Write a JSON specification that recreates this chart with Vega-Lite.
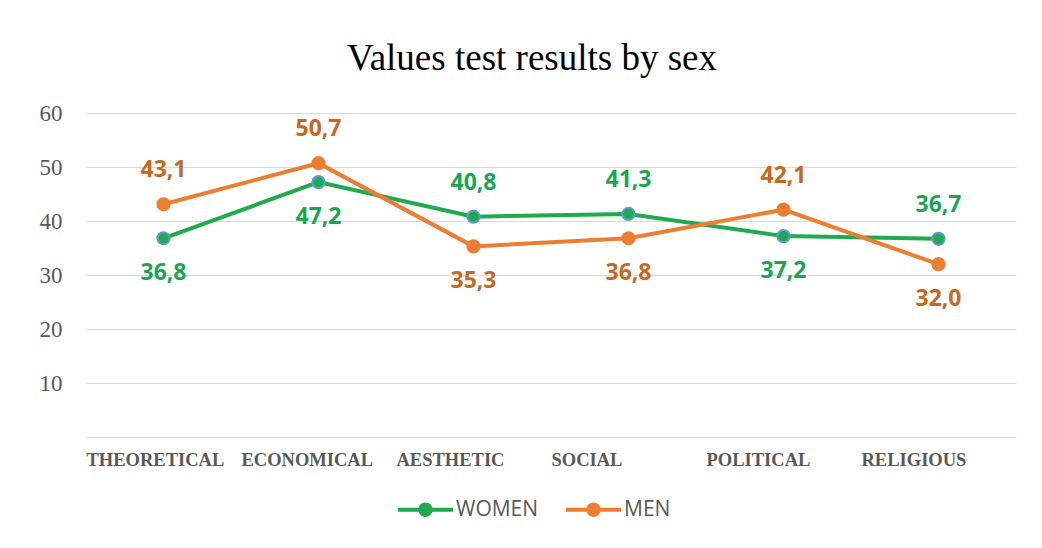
{
  "$schema": "https://vega.github.io/schema/vega-lite/v6.json",
  "width": 930,
  "height": 324,
  "autosize": "none",
  "padding": {"left": 86, "top": 113, "right": 26, "bottom": 111},
  "background": "white",
  "config": {
    "locale": {"number": {"decimal": ",", "thousands": ".", "grouping": [3], "currency": ["", ""]}},
    "view": {"stroke": null}
  },
  "title": {
    "text": "Values test results by sex",
    "font": "Liberation Serif",
    "fontSize": 37,
    "fontWeight": "normal",
    "color": "#000000",
    "offset": 24,
    "dx": -19
  },
  "data": {
    "values": [
      {"category": "THEORETICAL", "series": "WOMEN", "value": 36.8},
      {"category": "ECONOMICAL", "series": "WOMEN", "value": 47.2},
      {"category": "AESTHETIC", "series": "WOMEN", "value": 40.8},
      {"category": "SOCIAL", "series": "WOMEN", "value": 41.3},
      {"category": "POLITICAL", "series": "WOMEN", "value": 37.2},
      {"category": "RELIGIOUS", "series": "WOMEN", "value": 36.7},
      {"category": "THEORETICAL", "series": "MEN", "value": 43.1},
      {"category": "ECONOMICAL", "series": "MEN", "value": 50.7},
      {"category": "AESTHETIC", "series": "MEN", "value": 35.3},
      {"category": "SOCIAL", "series": "MEN", "value": 36.8},
      {"category": "POLITICAL", "series": "MEN", "value": 42.1},
      {"category": "RELIGIOUS", "series": "MEN", "value": 32.0}
    ]
  },
  "transform": [
    {"joinaggregate": [{"op": "max", "field": "value", "as": "maxv"}], "groupby": ["category"]},
    {"calculate": "datum.value == datum.maxv ? 'above' : 'below'", "as": "pos"}
  ],
  "encoding": {
    "x": {
      "field": "category",
      "type": "nominal",
      "sort": ["THEORETICAL", "ECONOMICAL", "AESTHETIC", "SOCIAL", "POLITICAL", "RELIGIOUS"],
      "axis": {
        "title": null,
        "labelAngle": 0,
        "labelAlign": "left",
        "labelOffset": -77.5,
        "labelFont": "Liberation Serif",
        "labelFontWeight": "bold",
        "labelFontSize": 18.5,
        "labelColor": "#595959",
        "labelPadding": 13,
        "ticks": false,
        "domain": false,
        "grid": false
      }
    },
    "y": {
      "field": "value",
      "type": "quantitative",
      "scale": {"domain": [0, 60], "nice": false},
      "axis": {
        "title": null,
        "values": [0, 10, 20, 30, 40, 50, 60],
        "labelExpr": "datum.value == 0 ? '' : datum.label",
        "labelFont": "Liberation Serif",
        "labelFontSize": 23,
        "labelColor": "#595959",
        "labelPadding": 24,
        "ticks": false,
        "domain": false,
        "grid": true,
        "gridColor": "#d9d9d9",
        "gridWidth": 1
      }
    }
  },
  "layer": [
    {
      "mark": {"type": "line", "strokeWidth": 4},
      "encoding": {
        "stroke": {
          "field": "series",
          "type": "nominal",
          "scale": {"domain": ["WOMEN", "MEN"], "range": ["#1DAB4E", "#ED7D31"]},
          "legend": {
            "title": null,
            "orient": "none",
            "legendX": 312,
            "legendY": 369,
            "direction": "horizontal",
            "symbolType": "M-1,-0.075H1V0.075H-1Z M0.26,0A0.26,0.26 0 1,1 -0.26,0A0.26,0.26 0 1,1 0.26,0Z",
            "symbolSize": 3025,
            "symbolStrokeWidth": 0,
            "labelFont": "Open Sans",
            "labelFontSize": 21,
            "labelColor": "#595959",
            "labelOffset": 3,
            "columnPadding": 27,
            "encode": {
              "symbols": {
                "update": {
                  "fill": {"scale": "stroke", "field": "value"},
                  "strokeWidth": {"value": 0}
                }
              }
            }
          }
        }
      }
    },
    {
      "mark": {"type": "point", "filled": true, "size": 150, "strokeWidth": 2, "opacity": 1},
      "encoding": {
        "fill": {
          "field": "series",
          "type": "nominal",
          "scale": {"domain": ["WOMEN", "MEN"], "range": ["#1DAB4E", "#ED7D31"]},
          "legend": null
        },
        "stroke": {
          "condition": {"test": "datum.series == 'WOMEN'", "value": "#5B9BD5"},
          "value": "#ED7D31"
        }
      }
    },
    {
      "transform": [{"filter": "datum.pos == 'above'"}],
      "mark": {"type": "text", "dy": -34, "baseline": "middle", "font": "Open Sans", "fontWeight": "bold", "fontSize": 23},
      "encoding": {
        "text": {"field": "value", "type": "quantitative", "format": ".1f"},
        "color": {
          "condition": {"test": "datum.series == 'WOMEN'", "value": "#1AA651"},
          "value": "#C8671E"
        }
      }
    },
    {
      "transform": [{"filter": "datum.pos == 'below'"}],
      "mark": {"type": "text", "dy": 35, "baseline": "middle", "font": "Open Sans", "fontWeight": "bold", "fontSize": 23},
      "encoding": {
        "text": {"field": "value", "type": "quantitative", "format": ".1f"},
        "color": {
          "condition": {"test": "datum.series == 'WOMEN'", "value": "#1AA651"},
          "value": "#C8671E"
        }
      }
    }
  ]
}
